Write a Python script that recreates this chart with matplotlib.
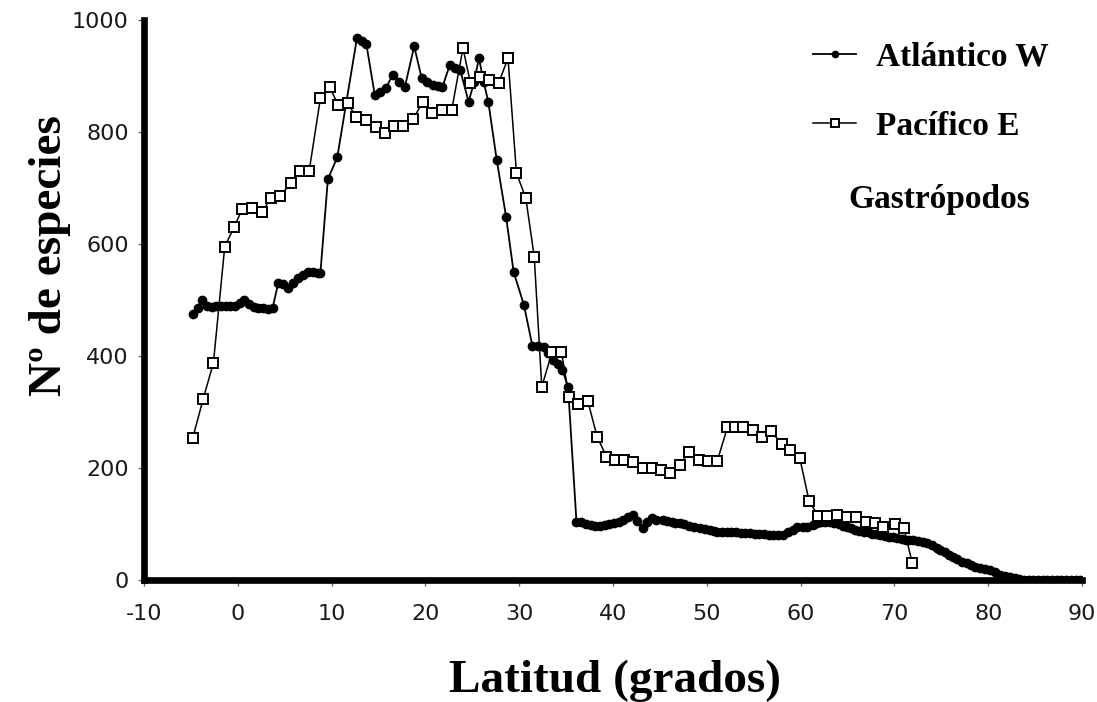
import matplotlib.pyplot as plt

plt.rcParams["axes.unicode_minus"] = False

# Gastropod species richness along the western Atlantic and eastern Pacific coasts
atl_lat = [-4.8, -4.3, -3.8, -3.3, -2.8, -2.3, -1.8, -1.3, -0.8, -0.3, 0.2, 0.7,
           1.2, 1.7, 2.2, 2.7, 3.2, 3.7, 4.3, 4.8, 5.4, 5.9, 6.4, 6.9, 7.5, 8.0,
           8.5, 8.8, 9.6, 10.6, 12.7, 13.2, 13.7, 14.6, 15.2, 15.8, 16.5, 17.2,
           17.8, 18.8, 19.6, 20.2, 20.8, 21.3, 21.8, 22.6, 23.2, 23.7, 24.6,
           25.2, 25.7, 26.2, 26.7, 27.6, 28.6, 29.4, 30.5, 31.4, 32.0, 32.6,
           33.1, 33.6, 34.1, 34.6, 35.2, 36.1, 36.6, 37.1, 37.6, 38.1, 38.6,
           39.1, 39.6, 40.1, 40.6, 41.1, 41.6, 42.1, 42.6, 43.2, 43.6, 44.1,
           44.6, 45.3, 45.8, 46.3, 46.6, 47.1, 47.6, 48.1, 48.6, 49.3, 49.8,
           50.3, 50.8, 51.1, 51.6, 52.1, 52.6, 53.1, 53.6, 54.1, 54.6, 55.1,
           55.6, 56.1, 56.6, 57.1, 57.6, 58.1, 58.6, 59.2, 59.6, 60.2, 60.7,
           61.3, 61.7, 62.2, 62.6, 63.1, 63.6, 64.1, 64.5, 64.9, 65.4, 65.8,
           66.2, 66.7, 67.2, 67.6, 68.0, 68.5, 69.0, 69.4, 69.8, 70.3, 70.8,
           71.2, 71.6, 72.0, 72.5, 73.0, 73.5, 74.0, 74.5, 74.9, 75.4, 75.8,
           76.2, 76.7, 77.2, 77.7, 78.2, 78.6, 79.1, 79.6, 80.2, 80.7, 81.3,
           81.8, 82.3, 82.8, 83.3, 83.8, 84.3, 84.8, 85.3, 85.8, 86.3, 86.8,
           87.3, 87.8, 88.3, 88.8, 89.3, 89.8]
atl_spp = [475, 485, 500, 490, 488, 490, 490, 490, 490, 490, 495, 500,
           492, 487, 485, 485, 484, 485, 530, 528, 522, 530, 539, 545, 550, 550,
           548, 548, 716, 755, 968, 962, 957, 866, 872, 879, 902, 890,
           880, 953, 896, 890, 884, 882, 880, 920, 915, 911, 854,
           890, 932, 890, 854, 750, 648, 550, 491, 418, 418, 416,
           405, 393, 385, 375, 345, 104, 103, 100, 98, 97, 97,
           99, 100, 102, 104, 108, 112, 116, 105, 93, 104, 111,
           108, 107, 105, 103, 102, 102, 100, 97, 95, 93, 91,
           89, 87, 86, 86, 85, 85, 85, 84, 84, 84, 83,
           83, 82, 81, 80, 80, 80, 85, 89, 95, 95, 95,
           98, 102, 103, 103, 104, 102, 100, 97, 95, 93, 90,
           88, 86, 85, 83, 82, 80, 78, 77, 76, 75, 73,
           72, 71, 71, 69, 67, 66, 62, 58, 54, 50, 45,
           41, 37, 33, 30, 27, 24, 21, 19, 18, 14, 9,
           7, 5, 3, 1, 0, 0, 0, 0, 0, 0, 0,
           0, 0, 0, 0, 0, 0]

pac_lat = [-4.8, -3.7, -2.6, -1.4, -0.4, 0.45, 1.5, 2.6, 3.5, 4.5, 5.7, 6.6,
           7.6, 8.8, 9.8, 10.7, 11.7, 12.6, 13.7, 14.7, 15.7, 16.6, 17.6,
           18.7, 19.7, 20.7, 21.8, 22.8, 24.0, 24.8, 25.8, 26.8, 27.8, 28.8,
           29.7, 30.7, 31.6, 32.4, 33.5, 34.5, 35.3, 36.3, 37.3, 38.3, 39.3,
           40.2, 41.2, 42.1, 43.2, 44.2, 45.1, 46.1, 47.1, 48.1, 49.2, 50.1,
           51.1, 52.2, 53.0, 53.9, 54.9, 55.9, 56.8, 58.0, 58.9, 59.9, 60.9,
           61.9, 62.8, 63.9, 64.9, 65.9, 67.0, 67.9, 68.8, 70.1, 71.0, 71.9]
pac_spp = [254, 323, 388, 595, 630, 662, 664, 657, 682, 686, 709, 730,
           730, 860, 880, 848, 852, 827, 821, 809, 798, 811, 811,
           823, 854, 834, 839, 839, 950, 887, 898, 893, 887, 932,
           727, 682, 577, 345, 407, 407, 327, 314, 320, 256, 220,
           214, 214, 211, 200, 200, 196, 191, 205, 229, 214, 212,
           212, 273, 273, 273, 268, 256, 266, 243, 232, 218, 141,
           114, 114, 116, 113, 113, 104, 102, 95, 100, 93, 30]

x_ticks = list(range(-10, 91, 10))
y_ticks = list(range(0, 1001, 200))

fig = plt.figure(figsize=(10.97, 7.02), dpi=100)
ax = fig.add_axes([0.1313, 0.1738, 0.8551, 0.7977])

ax.plot(atl_lat, atl_spp, color="black", lw=1.3, marker="o", ms=6,
        mfc="black", mec="black", label="Atlántico W", zorder=3)
ax.plot(pac_lat, pac_spp, color="black", lw=1.1, marker="s", ms=7.5,
        mfc="white", mec="black", mew=1.4, label="Pacífico E", zorder=4)

ax.set_xlim(-10, 90)
ax.set_ylim(0, 1000)
ax.set_xticks(x_ticks)
ax.set_yticks(y_ticks)

for side in ("top", "right"):
    ax.spines[side].set_visible(False)
for side in ("left", "bottom"):
    ax.spines[side].set_linewidth(4.8)
    ax.spines[side].set_color("black")

ax.tick_params(axis="both", direction="out", length=4, width=1, color="#666666",
               labelsize=16, labelcolor="#1a1a1a")
ax.tick_params(axis="x", pad=13)
ax.tick_params(axis="y", pad=7)

serif = ["Liberation Serif", "DejaVu Serif"]
ax.set_xlabel("Latitud (grados)", fontsize=34, fontweight="bold", family=serif)
ax.set_ylabel("Nº de especies", fontsize=34, fontweight="bold", family=serif)
ax.xaxis.set_label_coords(0.502, -0.142)
ax.yaxis.set_label_coords(-0.078, 0.58)

leg = ax.legend(loc="upper left", bbox_to_anchor=(0.713, 0.962), frameon=False,
                prop={"family": serif, "weight": "bold", "size": 24},
                handlelength=1.3, handletextpad=0.6, labelspacing=1.15,
                borderpad=0, borderaxespad=0, markerscale=0.75)

ax.text(0.751, 0.679, "Gastrópodos", transform=ax.transAxes, ha="left",
        va="center", family=serif, fontweight="bold", fontsize=24)

fig.savefig("out.png", dpi=100)
